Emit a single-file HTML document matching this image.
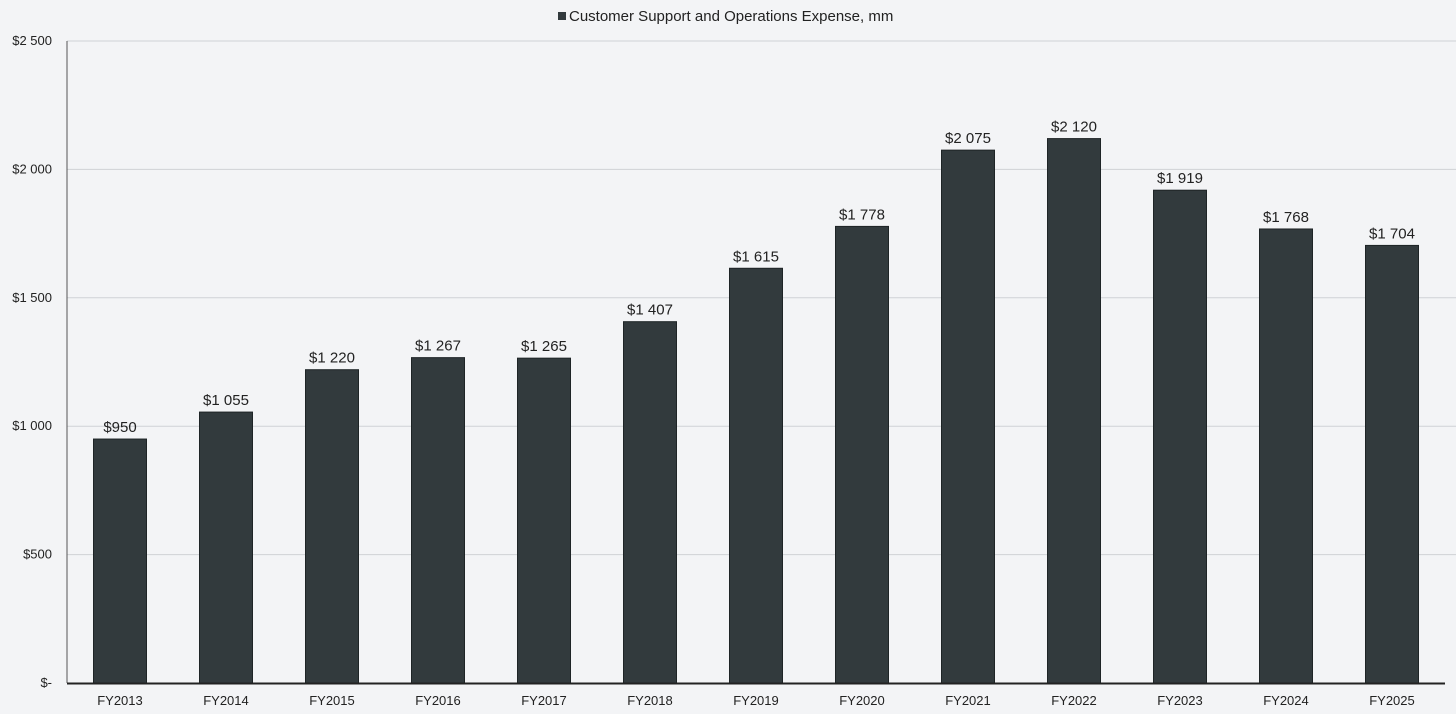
<!DOCTYPE html>
<html><head><meta charset="utf-8"><style>
body{margin:0;background:#f3f4f6;}
svg{display:block;font-family:"Liberation Sans",Arial,sans-serif;}
</style></head><body>
<svg id="c" width="1456" height="714"></svg>
<script>
const categories=["FY2013","FY2014","FY2015","FY2016","FY2017","FY2018","FY2019","FY2020","FY2021","FY2022","FY2023","FY2024","FY2025"];
const values=[950,1055,1220,1267,1265,1407,1615,1778,2075,2120,1919,1768,1704];
const valueLabels=["$950","$1 055","$1 220","$1 267","$1 265","$1 407","$1 615","$1 778","$2 075","$2 120","$1 919","$1 768","$1 704"];
const ticks=[0,500,1000,1500,2000,2500];
const tickLabels=["$-","$500","$1 000","$1 500","$2 000","$2 500"];
const NS="http://www.w3.org/2000/svg";
const svg=document.getElementById('c');
const x0=67,x1=1445,yTop=41,yBot=683,maxV=2500;
const y=v=>yBot-(v/maxV)*(yBot-yTop);
const step=(x1-x0)/categories.length;
const xc=i=>x0+step*(i+0.5);
function mk(t,a,txt){const e=document.createElementNS(NS,t);for(const k in a)e.setAttribute(k,a[k]);if(txt!=null)e.textContent=txt;svg.appendChild(e);return e;}
ticks.forEach((t,i)=>{
 if(t>0){const g=mk('line',{x1:x0,x2:1456,y1:y(t),y2:y(t),stroke:'#cfd2d5','stroke-width':1});
 
 }
 const l=mk('text',{x:52,y:y(t)+4,'text-anchor':'end','font-size':13,fill:'#222'},tickLabels[i]);
 
 
});
const ya=mk('line',{x1:x0,x2:x0,y1:yTop,y2:yBot,stroke:'#555','stroke-width':1});


categories.forEach((c,i)=>{
 const b=mk('rect',{x:xc(i)-26.5,y:y(values[i]),width:53,height:yBot-y(values[i]),fill:'#323a3d',stroke:'#1e2426','stroke-width':1});
 
 
 const v=mk('text',{x:xc(i),y:y(values[i])-7,'text-anchor':'middle','font-size':15,fill:'#222'},valueLabels[i]);
 
 
 const t=mk('text',{x:xc(i),y:705,'text-anchor':'middle','font-size':13,fill:'#222'},c);
 
 
});
const xa=mk('line',{x1:x0,x2:x1,y1:yBot+0.5,y2:yBot+0.5,stroke:'#222','stroke-width':2});


const ls=mk('rect',{x:558,y:12,width:8,height:8,fill:'#323a3d'});


const lt=mk('text',{x:569,y:21,'font-size':15,fill:'#222'},'Customer Support and Operations Expense, mm');


</script>
</body></html>
